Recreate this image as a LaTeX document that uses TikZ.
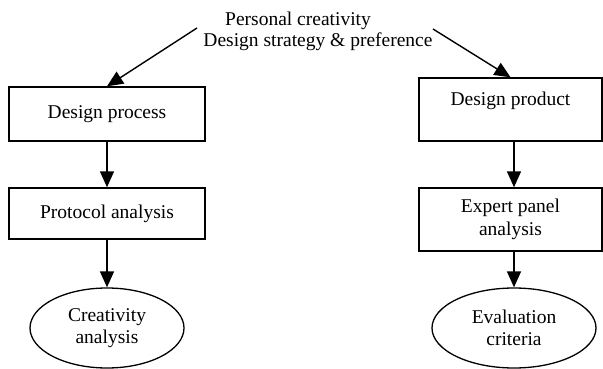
\documentclass[tikz,border=0pt]{standalone}
\usepackage{fontspec}
\setmainfont{Liberation Serif}
\usetikzlibrary{arrows.meta,shapes.geometric}
\begin{document}
\begin{tikzpicture}[x=1pt,y=-1pt,
  every node/.style={font=\fontsize{19.5}{22.5}\selectfont},
  boxnode/.style={draw,line width=1.4pt,rectangle,inner sep=0pt,align=center},
  ellnode/.style={draw,line width=1.3pt,ellipse,inner sep=0pt,align=center},
  conn/.style={line width=1.4pt,-{Triangle[length=16pt,width=14pt]}},
  txt/.style={inner sep=0pt,anchor=base}]
\useasboundingbox (0,0) rectangle (603,369);
\node[txt] (t1) at (298,26) {Personal creativity};
\node[txt] (t2) at (318,47) {Design strategy \& preference};
\node[boxnode,minimum width=196pt,minimum height=54pt] (b1) at (107,114) {Design process};
\node[boxnode,minimum width=196pt,minimum height=51pt] (b2) at (107,213.5) {Protocol analysis};
\node[ellnode,minimum width=154pt,minimum height=80pt] (e1) at (107,328) {Creativity\\analysis};
\node[boxnode,minimum width=183pt,minimum height=63pt] (b3) at (510.5,109.5) {Design product\\ \mbox{}};
\node[boxnode,minimum width=183pt,minimum height=63pt] (b4) at (510.5,219.5) {Expert panel\\analysis};
\node[ellnode,minimum width=164pt,minimum height=80pt] (e2) at (514,328) {Evaluation\\criteria};
\coordinate (s1) at (197,28);
\coordinate (s2) at (433,29);
\draw[conn] (s1) -- (b1.north);
\draw[conn] (s2) -- (b3.north);
\draw[conn] (b1.south) -- (b2.north);
\draw[conn] (b2.south) -- (e1.north);
\draw[conn] (b3.south -| e2.north) -- (b4.north -| e2.north);
\draw[conn] (b4.south -| e2.north) -- (e2.north);
\end{tikzpicture}
\end{document}
